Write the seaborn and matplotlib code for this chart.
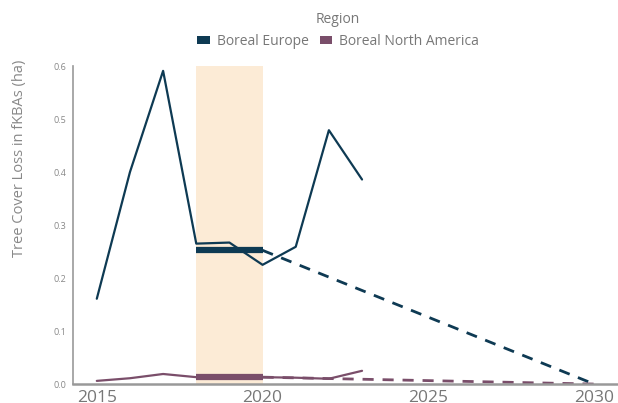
import numpy as np
import pandas as pd
import matplotlib
matplotlib.use("Agg")
import matplotlib.pyplot as plt
from matplotlib.patches import Patch
import seaborn as sns

years = [2015, 2016, 2017, 2018, 2019, 2020, 2021, 2022, 2023]
europe = [0.161, 0.400, 0.591, 0.265, 0.267, 0.225, 0.259, 0.479, 0.386]
north_america = [0.006, 0.011, 0.019, 0.013, 0.013, 0.013, 0.012, 0.010, 0.025]
regions = ["Boreal Europe", "Boreal North America"]
colors = ["#0E3A53", "#7A4E6A"]
baseline_start, baseline_end = 2018, 2020
target_year = 2030
x_ticks = [2015, 2020, 2025, 2030]
y_ticks = [0.0, 0.1, 0.2, 0.3, 0.4, 0.5, 0.6]

sns.set_theme(style="white")
plt.rcParams["font.family"] = ["Open Sans", "DejaVu Sans"]

df = pd.DataFrame({
    "Year": years * 2,
    "Loss": europe + north_america,
    "Region": [regions[0]] * len(years) + [regions[1]] * len(years),
})
palette = dict(zip(regions, colors))

fig = plt.figure(figsize=(6.18, 4.03), dpi=100)
ax = fig.add_axes([0.118, 0.047, 0.882, 0.789])

# baseline period shading
ax.axvspan(baseline_start, baseline_end, ymin=0, ymax=1, color="#FCEBD6", lw=0, zorder=0)

sns.lineplot(data=df, x="Year", y="Loss", hue="Region", palette=palette,
             linewidth=1.6, ax=ax, legend=False, zorder=3)

# baseline mean and linear path to zero by target year
for reg in regions:
    base = df[(df.Region == reg) & (df.Year >= baseline_start) & (df.Year <= baseline_end)]
    mean = base.Loss.mean()
    ax.plot([baseline_start, baseline_end], [mean, mean], color=palette[reg],
            lw=4.5, solid_capstyle="butt", zorder=4)
    ax.plot([baseline_end, target_year], [mean, 0], color=palette[reg],
            lw=2, ls=(0, (4, 3.2)), zorder=2)

ax.set_xlim(2014.28, 2030.72)
ax.set_ylim(0, 0.6)
ax.set_xticks(x_ticks)
ax.set_xticklabels([str(t) for t in x_ticks], fontsize=12.5, color="#777777")
ax.set_yticks(y_ticks)
ax.set_yticklabels([f"{t:.1f}" for t in y_ticks], fontsize=6.5, color="#888888")
ax.tick_params(axis="x", length=3, color="#999999", pad=1)
ax.tick_params(axis="y", length=3, color="#999999", pad=2)
ax.set_xlabel("")
ax.set_ylabel("Tree Cover Loss in fKBAs (ha)", fontsize=10.5, color="#888888",
              loc="top")
ax.yaxis.set_label_coords(-0.085, 1.02)
for s in ["top", "right"]:
    ax.spines[s].set_visible(False)
ax.spines["left"].set_color("#999999")
ax.spines["bottom"].set_color("#999999")
ax.spines["left"].set_linewidth(1.2)
ax.spines["bottom"].set_linewidth(1.8)

handles = [Patch(facecolor=c, edgecolor="none", label=r) for r, c in zip(regions, colors)]
leg = fig.legend(handles=handles, title="Region", ncol=2, frameon=False,
                 loc="upper center", bbox_to_anchor=(0.547, 0.99),
                 fontsize=10, title_fontsize=10, handlelength=0.9, handleheight=0.5,
                 handletextpad=0.5, columnspacing=0.8, borderaxespad=0.2)
for t in leg.get_texts():
    t.set_color("#777777")
leg.get_title().set_color("#777777")

fig.savefig("out.png", dpi=100)
